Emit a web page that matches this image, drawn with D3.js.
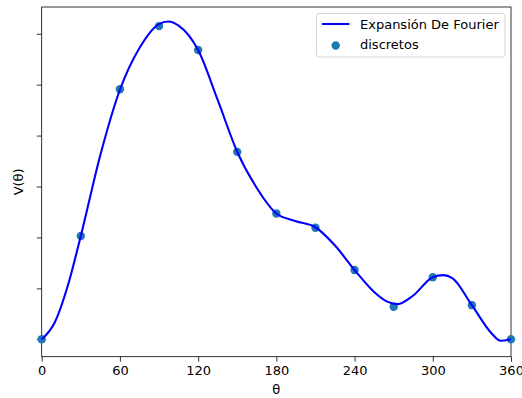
<!DOCTYPE html>
<html>
<head>
<meta charset="utf-8">
<script src="https://cdn.jsdelivr.net/npm/d3@7"></script>
<style>
  body { margin: 0; background: #fff; }
  text { font-family: "DejaVu Sans", sans-serif; }
</style>
</head>
<body>
<svg id="chart"></svg>
<script>
// Discrete samples (points)
const thetaPts = [0, 30, 60, 90, 120, 150, 180, 210, 240, 270, 300, 330, 360];
const vPts = [0, 2.03, 4.91, 6.15, 5.68, 3.68, 2.47, 2.19, 1.36, 0.64, 1.22, 0.67, 0];

// Fourier expansion curve
const thetaCurve = [0, 10, 20, 30, 45, 60, 75, 90, 97, 105, 120, 135, 150, 165, 180, 195, 210, 225, 240, 255, 265, 273, 285, 300, 308, 315, 330, 345, 352, 360];
const vCurve = [0, 0.33, 1.05, 2.03, 3.62, 4.90, 5.72, 6.19, 6.24, 6.16, 5.68, 4.70, 3.68, 2.97, 2.47, 2.32, 2.20, 1.84, 1.36, 0.93, 0.74, 0.69, 0.86, 1.22, 1.26, 1.20, 0.67, 0.12, -0.03, 0];

const xTicks = [0, 60, 120, 180, 240, 300, 360];
const yTicks = [0, 1, 2, 3, 4, 5, 6];

const W = 522, H = 398;
const margin = { top: 7, right: 11, bottom: 41.3, left: 41.7 };
const width = W - margin.left - margin.right;
const height = H - margin.top - margin.bottom;
const fs = "13px";

const svg = d3.select("#chart")
  .attr("width", W)
  .attr("height", H);

const g = svg.append("g")
  .attr("transform", `translate(${margin.left},${margin.top})`);

const x = d3.scaleLinear().domain([0, 360]).range([0, width]);
const y = d3.scaleLinear().domain([-0.342, 6.525]).range([height, 0]);

// axes
const xAxis = d3.axisBottom(x).tickValues(xTicks).tickSize(4.9).tickPadding(4.5);
const gx = g.append("g")
  .attr("transform", `translate(0,${height})`)
  .call(xAxis);
gx.selectAll("text").attr("font-size", fs).attr("fill", "#000")
  .style("font-family", "DejaVu Sans, sans-serif");

const yAxis = d3.axisLeft(y).tickValues(yTicks).tickSize(4.9).tickFormat("");
const gy = g.append("g").call(yAxis);

[gx, gy].forEach(a => {
  a.select(".domain").remove();
  a.selectAll("line").attr("stroke", "#000").attr("stroke-width", 0.8);
});

// frame
g.append("rect")
  .attr("width", width)
  .attr("height", height)
  .attr("fill", "none")
  .attr("stroke", "#000")
  .attr("stroke-width", 0.8);

// discrete points
g.selectAll(".dot")
  .data(thetaPts.map((t, i) => [t, vPts[i]]))
  .enter()
  .append("circle")
  .attr("class", "dot")
  .attr("cx", d => x(d[0]))
  .attr("cy", d => y(d[1]))
  .attr("r", 4.2)
  .attr("fill", "#1f77b4");

// curve
const line = d3.line()
  .x(d => x(d[0]))
  .y(d => y(d[1]))
  .curve(d3.curveMonotoneX);

g.append("path")
  .datum(thetaCurve.map((t, i) => [t, vCurve[i]]))
  .attr("d", line)
  .attr("fill", "none")
  .attr("stroke", "#0000ff")
  .attr("stroke-width", 2.1);

// labels
svg.append("text")
  .attr("x", margin.left + width / 2)
  .attr("y", 394)
  .attr("text-anchor", "middle")
  .attr("font-size", fs)
  .text("θ");

svg.append("text")
  .attr("transform", `translate(23,${margin.top + height / 2}) rotate(-90)`)
  .attr("text-anchor", "middle")
  .attr("font-size", fs)
  .text("V(θ)");

// legend
const lg = svg.append("g");
lg.append("rect")
  .attr("x", 316.5).attr("y", 13.5)
  .attr("width", 188.5).attr("height", 43.5)
  .attr("rx", 2.5)
  .attr("fill", "#fff").attr("fill-opacity", 0.8)
  .attr("stroke", "#d6d6d6").attr("stroke-width", 1);
lg.append("line")
  .attr("x1", 322).attr("x2", 349.5)
  .attr("y1", 24).attr("y2", 24)
  .attr("stroke", "#0000ff").attr("stroke-width", 2.1);
lg.append("text")
  .attr("x", 360).attr("y", 28.5)
  .attr("font-size", fs)
  .text("Expansión De Fourier");
lg.append("circle")
  .attr("cx", 335.7).attr("cy", 45.5).attr("r", 4.2)
  .attr("fill", "#1f77b4");
lg.append("text")
  .attr("x", 360).attr("y", 49)
  .attr("font-size", fs)
  .text("discretos");
</script>
</body>
</html>
